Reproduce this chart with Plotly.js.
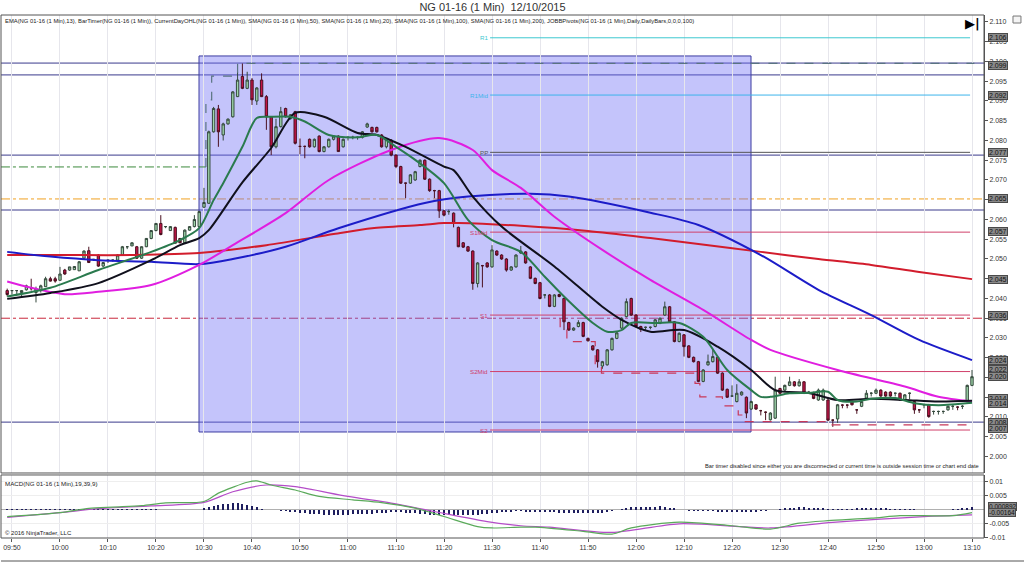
<!DOCTYPE html>
<html><head><meta charset="utf-8">
<script src="https://cdn.plot.ly/plotly-3.0.1.min.js"></script>
<style>html,body{margin:0;padding:0;background:#fff;}#chart{width:1024px;height:563px;}</style>
</head><body><div id="chart"></div>
<script>
// ---------- DATA (1-minute bars, bar index 0 = 09:49) ----------
const tickIdx = [1,11,21,31,41,51,61,71,81,91,101,111,121,131,141,151,161,171,181,191,201];
const tickLabels = ['09:50','10:00','10:10','10:20','10:30','10:40','10:50','11:00','11:10','11:20','11:30','11:40','11:50','12:00','12:10','12:20','12:30','12:40','12:50','13:00','13:10'];

const openP = [
2.042,2.042,2.042,2.0415,2.0422,2.0425,2.0415,2.042,2.043,2.045,
2.045,2.0446,2.0472,2.0472,2.0473,2.047,2.0502,2.0521,2.0499,2.051,
2.0482,2.0497,2.0497,2.0497,2.051,2.0531,2.0533,2.0531,2.0502,2.0531,
2.0552,2.0572,2.059,2.0582,2.0572,2.058,2.0552,2.0541,2.0573,2.0582,
2.0582,2.0631,2.0641,2.0822,2.088,2.0814,2.0842,2.086,2.0911,2.0962,
2.0932,2.0953,2.090,2.0953,2.0911,2.086,2.0784,2.0835,2.0881,2.0855,
2.0873,2.0785,2.0785,2.0803,2.0784,2.0811,2.0772,2.0784,2.0803,2.0811,
2.0784,2.0808,2.0808,2.0808,2.0808,2.0834,2.0833,2.0833,2.0814,2.0784,
2.0801,2.0763,2.0734,2.0692,2.0692,2.070,2.0734,2.075,2.0702,2.0673,
2.0673,2.0622,2.062,2.0616,2.058,2.0541,2.0531,2.052,2.0438,2.0483,
2.049,2.048,2.052,2.051,2.050,2.0472,2.048,2.0515,2.0518,2.048,
2.0451,2.044,2.0409,2.0409,2.038,2.041,2.040,2.0339,2.032,2.0329,
2.0339,2.0299,2.028,2.027,2.0229,2.0232,2.027,2.0299,2.0325,2.0354,
2.040,2.0358,2.0329,2.0327,2.0327,2.0329,2.0337,2.0358,2.0379,2.0341,
2.0291,2.0308,2.028,2.0251,2.024,2.019,2.0232,2.024,2.0251,2.0211,
2.017,2.0153,2.0139,2.0156,2.015,2.012,2.0131,2.0116,2.0112,2.0093,
2.0097,2.0172,2.0168,2.018,2.0189,2.0179,2.0189,2.016,2.0162,2.0143,
2.0143,2.0143,2.0092,2.0095,2.013,2.013,2.0139,2.0118,2.0127,2.0148,
2.016,2.016,2.0168,2.0163,2.0163,2.016,2.016,2.0143,2.016,2.0139,
2.0118,2.0131,2.0131,2.0114,2.0114,2.0114,2.0118,2.0127,2.0125,2.0127,
2.0139,2.018];
const highP = [
2.0425,2.042,2.042,2.042,2.0435,2.045,2.043,2.0435,2.0455,2.0455,
2.0455,2.048,2.0475,2.048,2.0482,2.0495,2.0522,2.0531,2.050,2.0512,
2.0492,2.0497,2.0499,2.0512,2.0533,2.0531,2.0542,2.0533,2.0532,2.0553,
2.0573,2.059,2.0611,2.0582,2.0583,2.0582,2.0553,2.0575,2.0583,2.0611,
2.0622,2.068,2.0825,2.0885,2.089,2.0845,2.0856,2.0925,2.0974,2.0995,
2.0974,2.0958,2.0935,2.097,2.0915,2.0862,2.0855,2.0885,2.0883,2.0867,
2.0875,2.0805,2.0787,2.0805,2.0805,2.0813,2.0786,2.0805,2.0813,2.0813,
2.0805,2.081,2.0812,2.081,2.0824,2.0845,2.0835,2.0835,2.0816,2.0805,
2.0803,2.0765,2.0736,2.0693,2.0715,2.0723,2.0752,2.0752,2.0704,2.0675,
2.0675,2.0624,2.0625,2.0618,2.0582,2.0543,2.0533,2.0522,2.0492,2.0485,
2.0492,2.0535,2.0522,2.0512,2.0502,2.0482,2.0512,2.0533,2.052,2.0482,
2.0453,2.0442,2.041,2.0411,2.0411,2.0412,2.0402,2.0341,2.0327,2.0345,
2.0341,2.0301,2.0282,2.0272,2.0242,2.0272,2.0301,2.0315,2.0352,2.040,
2.0402,2.036,2.0331,2.0329,2.0329,2.0348,2.0352,2.0392,2.0381,2.0343,
2.0314,2.031,2.0282,2.0253,2.0242,2.0221,2.0258,2.0272,2.0253,2.0213,
2.0172,2.018,2.0183,2.0165,2.0152,2.0141,2.0133,2.0118,2.0114,2.0112,
2.0202,2.0174,2.0182,2.0202,2.0191,2.0196,2.0191,2.0166,2.0164,2.0172,
2.0172,2.0145,2.0094,2.0133,2.0132,2.0132,2.0141,2.012,2.0141,2.0168,
2.0163,2.0172,2.017,2.0165,2.0165,2.0162,2.0162,2.0158,2.0162,2.0141,
2.012,2.0133,2.0133,2.0116,2.0116,2.0116,2.0129,2.013,2.0127,2.013,
2.0182,2.0219];
const lowP = [
2.0405,2.041,2.041,2.0405,2.042,2.042,2.039,2.0415,2.043,2.0443,
2.044,2.0446,2.046,2.047,2.0473,2.047,2.050,2.049,2.0495,2.048,
2.048,2.049,2.0493,2.0495,2.051,2.0525,2.0533,2.050,2.050,2.053,
2.055,2.057,2.056,2.0578,2.0572,2.054,2.054,2.054,2.0572,2.058,
2.058,2.063,2.064,2.082,2.0784,2.080,2.084,2.0858,2.091,2.093,
2.093,2.089,2.089,2.091,2.0827,2.0763,2.078,2.0833,2.0858,2.0853,
2.079,2.0765,2.0755,2.0782,2.0782,2.077,2.077,2.0782,2.080,2.0772,
2.0782,2.080,2.0803,2.0802,2.0805,2.0832,2.082,2.082,2.0782,2.078,
2.076,2.073,2.069,2.0654,2.069,2.0698,2.0732,2.070,2.067,2.0654,
2.0604,2.0608,2.0612,2.058,2.053,2.0528,2.0518,2.0422,2.0428,2.0428,
2.0478,2.0478,2.0508,2.0498,2.0468,2.047,2.0478,2.0513,2.0488,2.0449,
2.0436,2.0398,2.040,2.0378,2.0378,2.0403,2.032,2.0318,2.0318,2.0327,
2.0302,2.0291,2.0268,2.0225,2.0222,2.023,2.0268,2.0297,2.0323,2.0352,
2.0356,2.0327,2.0315,2.032,2.0322,2.0327,2.0335,2.0356,2.0339,2.0289,
2.0289,2.0253,2.0249,2.0238,2.0188,2.0188,2.023,2.0238,2.0209,2.0166,
2.0148,2.0151,2.0137,2.0154,2.0097,2.0118,2.0118,2.0104,2.0092,2.0091,
2.0095,2.0158,2.0166,2.0178,2.0177,2.0177,2.0158,2.0158,2.0145,2.0141,
2.0141,2.009,2.0075,2.0085,2.0122,2.0122,2.0129,2.0108,2.0125,2.0146,
2.0152,2.0158,2.0151,2.0151,2.0151,2.0152,2.0141,2.0141,2.0145,2.0108,
2.011,2.0122,2.0098,2.0106,2.0106,2.0108,2.0116,2.0118,2.0117,2.012,
2.0137,2.0178];
const closeP = [
2.041,2.042,2.042,2.042,2.0432,2.0425,2.0425,2.0432,2.045,2.0444,
2.0444,2.0462,2.0462,2.048,2.0481,2.0493,2.052,2.0491,2.0499,2.0482,
2.0491,2.0497,2.0497,2.051,2.0531,2.0531,2.0541,2.0502,2.0531,2.0552,
2.0572,2.059,2.0562,2.0582,2.0582,2.054,2.0541,2.0573,2.0582,2.060,
2.062,2.0643,2.0822,2.0881,2.0822,2.0842,2.0854,2.0923,2.0953,2.0932,
2.0953,2.0903,2.0933,2.0911,2.086,2.0784,2.0835,2.0873,2.086,2.0865,
2.0793,2.0785,2.0785,2.0784,2.0803,2.0772,2.0784,2.0803,2.0811,2.0772,
2.0803,2.0808,2.0808,2.0808,2.0822,2.0842,2.0822,2.0822,2.0784,2.0803,
2.0763,2.0734,2.0692,2.0692,2.0713,2.0721,2.075,2.0702,2.0673,2.0673,
2.0622,2.0611,2.062,2.059,2.0531,2.053,2.052,2.0438,2.049,2.0483,
2.048,2.0523,2.051,2.050,2.0472,2.048,2.051,2.052,2.049,2.0451,
2.0438,2.040,2.0409,2.038,2.0409,2.0405,2.0341,2.032,2.0325,2.0339,
2.0304,2.0293,2.027,2.024,2.024,2.027,2.0299,2.0313,2.035,2.0392,
2.0358,2.0329,2.0322,2.0327,2.0327,2.0346,2.035,2.0379,2.0341,2.0291,
2.0312,2.0278,2.0251,2.024,2.019,2.0219,2.024,2.0253,2.0211,2.0168,
2.015,2.0153,2.016,2.0163,2.011,2.0139,2.012,2.0116,2.0112,2.011,
2.0168,2.016,2.018,2.0189,2.0179,2.0189,2.016,2.0163,2.0147,2.0168,
2.0168,2.0092,2.0092,2.0131,2.013,2.013,2.0131,2.0118,2.0139,2.016,
2.016,2.0168,2.0153,2.0153,2.0153,2.016,2.0143,2.0156,2.016,2.0118,
2.0118,2.0131,2.0101,2.0114,2.0114,2.0114,2.0127,2.0127,2.0125,2.0127,
2.018,2.0202];

// moving averages (bar index, price)
const ema13Idx = [0,9,19,30,36,40,43,45,49,52,55,59,62,67,73,77,81,85,91,96,101,107,112,116,122,125,128,130,135,140,145,150,155,157,159,163,167,171,173,177,180,185,189,194,201];
const ema13Val = [2.0405,2.0427,2.0472,2.0518,2.0548,2.0578,2.0649,2.0692,2.0784,2.0857,2.0860,2.0860,2.0848,2.0814,2.0808,2.0814,2.0784,2.0751,2.0692,2.0599,2.0548,2.0518,2.0455,2.0405,2.0338,2.0316,2.0320,2.0338,2.0338,2.0338,2.0303,2.0219,2.0168,2.0151,2.0151,2.0160,2.0161,2.0164,2.0143,2.0139,2.0146,2.0148,2.0135,2.0130,2.0136];
const sma20Idx = [0,9,19,30,36,40,42,49,55,60,66,73,77,83,91,93,97,103,114,124,128,134,141,148,155,160,167,173,180,187,194,201];
const sma20Val = [2.0399,2.0414,2.0439,2.0497,2.0535,2.0553,2.0573,2.0694,2.0781,2.0870,2.0860,2.0819,2.0814,2.0784,2.0734,2.0725,2.0658,2.0582,2.0481,2.0379,2.0346,2.0316,2.0320,2.0278,2.0219,2.0168,2.0161,2.0143,2.0146,2.0143,2.0139,2.0141];
const sma50Idx = [0,5,12,19,30,40,47,58,67,80,90,97,101,107,114,124,134,145,155,159,173,187,194,201];
const sma50Val = [2.0443,2.0427,2.0411,2.0417,2.0434,2.0485,2.0535,2.0616,2.0700,2.0776,2.0806,2.0776,2.0725,2.0680,2.0607,2.0523,2.0447,2.0371,2.0295,2.0270,2.0219,2.0177,2.0151,2.0139];
const sma100Idx = [0,9,19,30,40,47,58,69,87,96,109,117,134,144,157,169,180,190,201];
const sma100Val = [2.0518,2.0506,2.0497,2.0493,2.0487,2.0500,2.0531,2.0578,2.0642,2.0658,2.0665,2.0658,2.0617,2.0586,2.0510,2.0422,2.0358,2.0295,2.0244];
const sma200Idx = [0,11,26,40,54,68,76,86,91,94,107,121,134,144,157,169,180,190,201];
const sma200Val = [2.0510,2.0510,2.0510,2.0515,2.0535,2.0563,2.0578,2.0586,2.0591,2.0591,2.0584,2.0571,2.0553,2.0538,2.0518,2.0500,2.0485,2.0467,2.0449];

// current-day high / low step lines (bar index, price)
const dayHighIdx = [41.4,41.4,42.6,42.6,48.0,48.0,201.5];
const dayHighVal = [2.0733,2.0903,2.0903,2.0963,2.0963,2.0995,2.0995];
const dayLowIdx = [115.2,115.2,116.6,116.6,122.5,122.5,123.8,123.8,143.3,143.3,144.3,144.3,149,149,152.3,152.3,153.3,153.3,171.4,171.4,201.5];
const dayLowVal = [2.0350,2.0320,2.0320,2.0291,2.0291,2.0232,2.0232,2.0211,2.0211,2.0185,2.0185,2.0151,2.0151,2.0128,2.0128,2.0105,2.0105,2.0088,2.0088,2.0080,2.0080];
const dayOpenIdx = [-1.3,41.4];
const dayOpenVal = [2.0733,2.0733];

// horizontal levels
const navyLevels = [2.0996,2.0966,2.0763,2.0624,2.0087];
const orangeLevel = 2.0652;
const redDashLevel = 2.0350;
const pivotNames = ['R1','R1Mid','PP','S1Mid','S1','S2Mid','S2'];
const pivotValues = [2.106,2.0915,2.077,2.0568,2.0358,2.0215,2.0067];
const pivotStartIdx = 100.6, pivotEndIdx = 200.6;

// highlighted time range box
const boxStartIdx = 39.96, boxEndIdx = 154.96, boxLow = 2.0062, boxHigh = 2.1014;

// right-axis price badges
const badgeText = ['2.106','2.099','2.092','2.077','2.065','2.057','2.045','2.036','2.024','2.022','2.020','2.014','2.014','2.008','2.007'];
const badgeVal  = [2.1062,2.0990,2.0915,2.0770,2.0652,2.0570,2.0449,2.0358,2.0244,2.0220,2.0202,2.0146,2.0133,2.0085,2.0070];

// MACD(19,39,9)
const macdIdx = [0,11,17,22,28,33,41,44,47,50,52,55,60,65,72,78,85,91,98,101,107,110,120,126,130,140,151,159,165,171,180,186,191,197,201];
const macdVal = [-0.0024,-0.0010,0.0005,0.0010,0.0015,0.0025,0.0030,0.0060,0.0081,0.0099,0.0104,0.0089,0.0071,0.0048,0.0036,0.0026,0.0006,-0.0024,-0.0060,-0.0065,-0.0062,-0.0062,-0.0077,-0.0087,-0.0065,-0.0044,-0.0057,-0.0069,-0.0048,-0.0039,-0.0030,-0.0021,-0.0021,-0.0021,-0.0010];
const signalIdx = [0,11,19,30,41,47,54,60,71,80,89,100,107,113,126,140,159,172,191,201];
const signalVal = [-0.0027,-0.0010,0.0004,0.0014,0.0027,0.0065,0.0089,0.0083,0.0048,0.0024,-0.0006,-0.0042,-0.0057,-0.0062,-0.0081,-0.0050,-0.0065,-0.0045,-0.0024,-0.0018];
const histVal = [
0.0003,0.0004,0.0004,0.0004,0.0004,0.0004,0.0004,0.0004,0.0004,0.0004,0.0004,
0.0004,0.0004,0.0004,0.0004,0.0004,0.0003,0.0003,0.0003,0.0003,0.0003,
0.0003,0.0003,0.0002,0.0002,0.0002,0.0002,0.0002,0.0002,0.0002,0.0002,
0.0002,0.0001,0.0001,0.0001,0.0001,0.0001,0.0001,0.0001,0.0001,0.0001,
0.0006,0.0010,0.0014,0.0017,0.0020,0.0022,0.0024,0.0023,0.0021,0.0018,0.0014,0.0009,0.0004,0.0001,
-0.0001,-0.0002,-0.0003,-0.0004,-0.0006,-0.0008,-0.0010,-0.0012,-0.0014,-0.0015,-0.0016,-0.0017,-0.0017,-0.0018,-0.0018,-0.0017,
-0.0017,-0.0016,-0.0016,-0.0015,-0.0015,-0.0014,-0.0013,-0.0012,-0.0010,-0.0008,-0.0007,-0.0008,-0.0010,-0.0012,-0.0013,-0.0015,-0.0016,-0.0017,-0.0017,-0.0018,
-0.0018,-0.0019,-0.0019,-0.0020,-0.0020,-0.0019,-0.0018,-0.0017,-0.0016,-0.0014,-0.0012,-0.0010,-0.0008,-0.0007,-0.0006,-0.0005,-0.0005,-0.0006,-0.0007,-0.0007,
-0.0008,-0.0008,-0.0009,-0.0009,-0.0010,-0.0010,-0.0010,-0.0011,-0.0011,-0.0011,-0.0012,-0.0012,-0.0011,-0.0010,-0.0008,-0.0005,-0.0002,
0.0003,0.0007,0.0009,0.0010,0.0011,0.0011,0.0011,0.0011,0.0012,0.0010,0.0008,0.0005,
-0.0001,-0.0002,-0.0003,-0.0004,-0.0004,-0.0005,-0.0005,-0.0005,-0.0006,-0.0006,-0.0006,-0.0007,-0.0007,-0.0007,-0.0007,-0.0007,-0.0006,-0.0005,-0.0004,-0.0002,-0.0001,
0.0003,0.0005,0.0007,0.0008,0.0009,0.0009,0.0008,0.0007,0.0006,0.0005,
0.0004,0.0004,0.0004,0.0004,0.0004,0.0004,0.0005,0.0005,0.0005,0.0005,0.0005,0.0005,0.0005,0.0004,0.0004,0.0004,0.0003,0.0003,
0.0002,0.0001,0.0001,0.0001,0.0000,0.0000,0.0001,0.0001,0.0002,0.0003,
0.0005,0.0007,0.0009];
const macdBadgeText = ['0.000892','-0.00164'];
const macdBadgeVal = [0.0013,-0.0010];

// ---------- CHART ----------
const barIdx = openP.map((_, i) => i);
const FONT = 'Liberation Sans, Arial, sans-serif';
const traces = [];

traces.push({type:'candlestick', x:barIdx, open:openP, high:highP, low:lowP, close:closeP,
  xaxis:'x', yaxis:'y', whiskerwidth:0, hoverinfo:'skip',
  increasing:{fillcolor:'#9fd6ab', line:{color:'#34483c', width:1}},
  decreasing:{fillcolor:'#c41446', line:{color:'#4a1020', width:1}}});

function line(x, y, color, width, dash, shape, yaxis) {
  traces.push({type:'scatter', mode:'lines', x:x, y:y, xaxis:'x', yaxis:yaxis||'y', hoverinfo:'skip',
    line:{color:color, width:width, dash:dash||'solid', shape:shape||'linear', smoothing:0.8}});
}
line(dayOpenIdx, dayOpenVal, '#3b8a3b', 1, 'dashdot');
line(dayHighIdx, dayHighVal, '#5a7482', 1.2, 'dash');
line(dayLowIdx, dayLowVal, '#c8385a', 1.2, 'dash');
line(sma200Idx, sma200Val, '#d21c2c', 2, 'solid', 'spline');
line(sma100Idx, sma100Val, '#1c1cc8', 2, 'solid', 'spline');
line(sma50Idx, sma50Val, '#e01ee0', 2, 'solid', 'spline');
line(sma20Idx, sma20Val, '#10101c', 2, 'solid', 'spline');
line(ema13Idx, ema13Val, '#2a7a4e', 2, 'solid', 'spline');

// MACD panel
traces.push({type:'bar', x:barIdx, y:histVal, xaxis:'x', yaxis:'y2', width:0.4, hoverinfo:'skip',
  marker:{color:'#1e1e5e', line:{width:0}}});
line(signalIdx, signalVal, '#b44cc8', 1.2, 'solid', 'spline', 'y2');
line(macdIdx, macdVal, '#5aaa5a', 1.2, 'solid', 'spline', 'y2');

const MAIN_DOM = [0.1243, 1];
const MACD_DOM = [0, 0.1205];

const shapes = [];
shapes.push({type:'rect', xref:'x', yref:'y', x0:boxStartIdx, x1:boxEndIdx, y0:boxLow, y1:boxHigh,
  fillcolor:'rgba(108,108,245,0.40)', line:{color:'#3c3ca0', width:1}, layer:'below'});
navyLevels.forEach(v => shapes.push({type:'line', xref:'paper', yref:'y', x0:0, x1:1, y0:v, y1:v,
  line:{color:'#3a3a8c', width:1}, layer:'between'}));
shapes.push({type:'line', xref:'paper', yref:'y', x0:0, x1:1, y0:orangeLevel, y1:orangeLevel,
  line:{color:'#f0a020', width:1, dash:'dashdot'}, layer:'between'});
shapes.push({type:'line', xref:'paper', yref:'y', x0:0, x1:1, y0:redDashLevel, y1:redDashLevel,
  line:{color:'#c8283c', width:1, dash:'dashdot'}, layer:'between'});
const pivotColors = ['#3cc8d0','#3cb4ec','#555555','#d0406a','#d0406a','#d0406a','#d0406a'];
pivotValues.forEach((v, k) => shapes.push({type:'line', xref:'x', yref:'y', x0:pivotStartIdx, x1:pivotEndIdx, y0:v, y1:v,
  line:{color:pivotColors[k], width:1}, layer:'between'}));
// panel frames
shapes.push({type:'rect', xref:'paper', yref:'paper', x0:0, x1:1, y0:MAIN_DOM[0], y1:MAIN_DOM[1], line:{color:'#555', width:1}, layer:'above'});
shapes.push({type:'rect', xref:'paper', yref:'paper', x0:0, x1:1, y0:MACD_DOM[0], y1:MACD_DOM[1], line:{color:'#555', width:1}, layer:'above'});
shapes.push({type:'line', xref:'paper', yref:'paper', x0:0, x1:1.05, y0:-0.044, y1:-0.044, line:{color:'#555', width:1}});
shapes.push({type:'rect', xref:'paper', yref:'paper', x0:1.0295, x1:1.0376, y0:0.9847, y1:0.998, line:{color:'#777', width:1}, fillcolor:'#f4f4f4'});

const annotations = [];
const tiny = {family:FONT, size:5.85, color:'#222'};
annotations.push({xref:'paper', yref:'paper', x:0.002, y:0.9885, xanchor:'left', yanchor:'middle', showarrow:false, font:tiny,
  text:'EMA(NG 01-16 (1 Min),13), BarTimer(NG 01-16 (1 Min)), CurrentDayOHL(NG 01-16 (1 Min)), SMA(NG 01-16 (1 Min),50), SMA(NG 01-16 (1 Min),20), SMA(NG 01-16 (1 Min),100), SMA(NG 01-16 (1 Min),200), JOBBPivots(NG 01-16 (1 Min),Daily,DailyBars,0,0,0,100)'});
annotations.push({xref:'paper', yref:'paper', x:0.997, y:0.1377, xanchor:'right', yanchor:'middle', showarrow:false,
  font:{family:FONT, size:5.7, color:'#222'},
  text:'Bar timer disabled since either you are disconnected or current time is outside session time or chart end date'});
annotations.push({xref:'paper', yref:'paper', x:0.002, y:0.1033, xanchor:'left', yanchor:'middle', showarrow:false,
  font:{family:FONT, size:6.2, color:'#222'}, text:'MACD(NG 01-16 (1 Min),19,39,9)'});
annotations.push({xref:'paper', yref:'paper', x:0.002, y:0.009, xanchor:'left', yanchor:'middle', showarrow:false,
  font:{family:FONT, size:6.0, color:'#222'}, text:'© 2016 NinjaTrader, LLC'});
annotations.push({xref:'paper', yref:'paper', x:0.9885, y:0.983, xanchor:'center', yanchor:'middle', showarrow:false,
  font:{family:'DejaVu Sans', size:13, color:'#000'}, text:'<b>▶|</b>'});
pivotNames.forEach((n, k) => annotations.push({xref:'x', yref:'y', x:pivotStartIdx, y:pivotValues[k], xanchor:'right', yanchor:'middle',
  showarrow:false, font:{family:FONT, size:6.2, color:pivotColors[k]}, text:n}));
badgeText.forEach((t, k) => annotations.push({xref:'paper', yref:'y', x:1.004, y:badgeVal[k], xanchor:'left', yanchor:'middle',
  showarrow:false, text:t, font:{family:FONT, size:7, color:'#111'}, bgcolor:'#8a8a8a', bordercolor:'#4a4a4a', borderwidth:1, borderpad:0}));
macdBadgeText.forEach((t, k) => annotations.push({xref:'paper', yref:'y2', x:1.004, y:macdBadgeVal[k], xanchor:'left', yanchor:'middle',
  showarrow:false, text:t, font:{family:FONT, size:6.5, color:'#111'}, bgcolor:'#8a8a8a', bordercolor:'#4a4a4a', borderwidth:1, borderpad:0}));

const layout = {
  width:1024, height:563,
  margin:{l:1, r:40, t:15, b:25},
  paper_bgcolor:'#ffffff', plot_bgcolor:'#ffffff',
  showlegend:false, hovermode:false, bargap:0,
  font:{family:FONT, size:7, color:'#333'},
  title:{text:'NG 01-16 (1 Min)  12/10/2015', font:{family:FONT, size:11, color:'#333'}, x:0.5, xanchor:'center', xref:'paper', y:0.988, yanchor:'middle', yref:'container'},
  xaxis:{domain:[0,1], range:[-1.29,203.5], anchor:'y2', tickmode:'array', tickvals:tickIdx, ticktext:tickLabels,
    showgrid:true, gridcolor:'#e6e6ec', gridwidth:1, zeroline:false, ticks:'outside', ticklen:3, tickcolor:'#555',
    tickfont:{family:FONT, size:7, color:'#333'}, rangeslider:{visible:false}, fixedrange:true, showline:false},
  yaxis:{domain:MAIN_DOM, range:[1.99582,2.11177], side:'right', anchor:'x', tick0:2.0, dtick:0.005, tickformat:'.3f',
    ticks:'outside', ticklen:3, tickcolor:'#555', showgrid:false, zeroline:false, showline:true, linecolor:'#555',
    tickfont:{family:FONT, size:7, color:'#333'}, fixedrange:true},
  yaxis2:{domain:MACD_DOM, range:[-0.0101,0.0125], side:'right', anchor:'x', tickmode:'array',
    tickvals:[-0.01,-0.005,0.005,0.01], ticktext:['-0.01','-0.005','0.005','0.01'],
    ticks:'outside', ticklen:3, tickcolor:'#555', showgrid:true, gridcolor:'#eeeeee', zeroline:true, zerolinecolor:'#b0b0b0', zerolinewidth:1,
    showline:true, linecolor:'#555', tickfont:{family:FONT, size:7, color:'#333'}, fixedrange:true},
  shapes:shapes, annotations:annotations
};

Plotly.newPlot('chart', traces, layout, {staticPlot:true, displayModeBar:false});
</script></body></html>
